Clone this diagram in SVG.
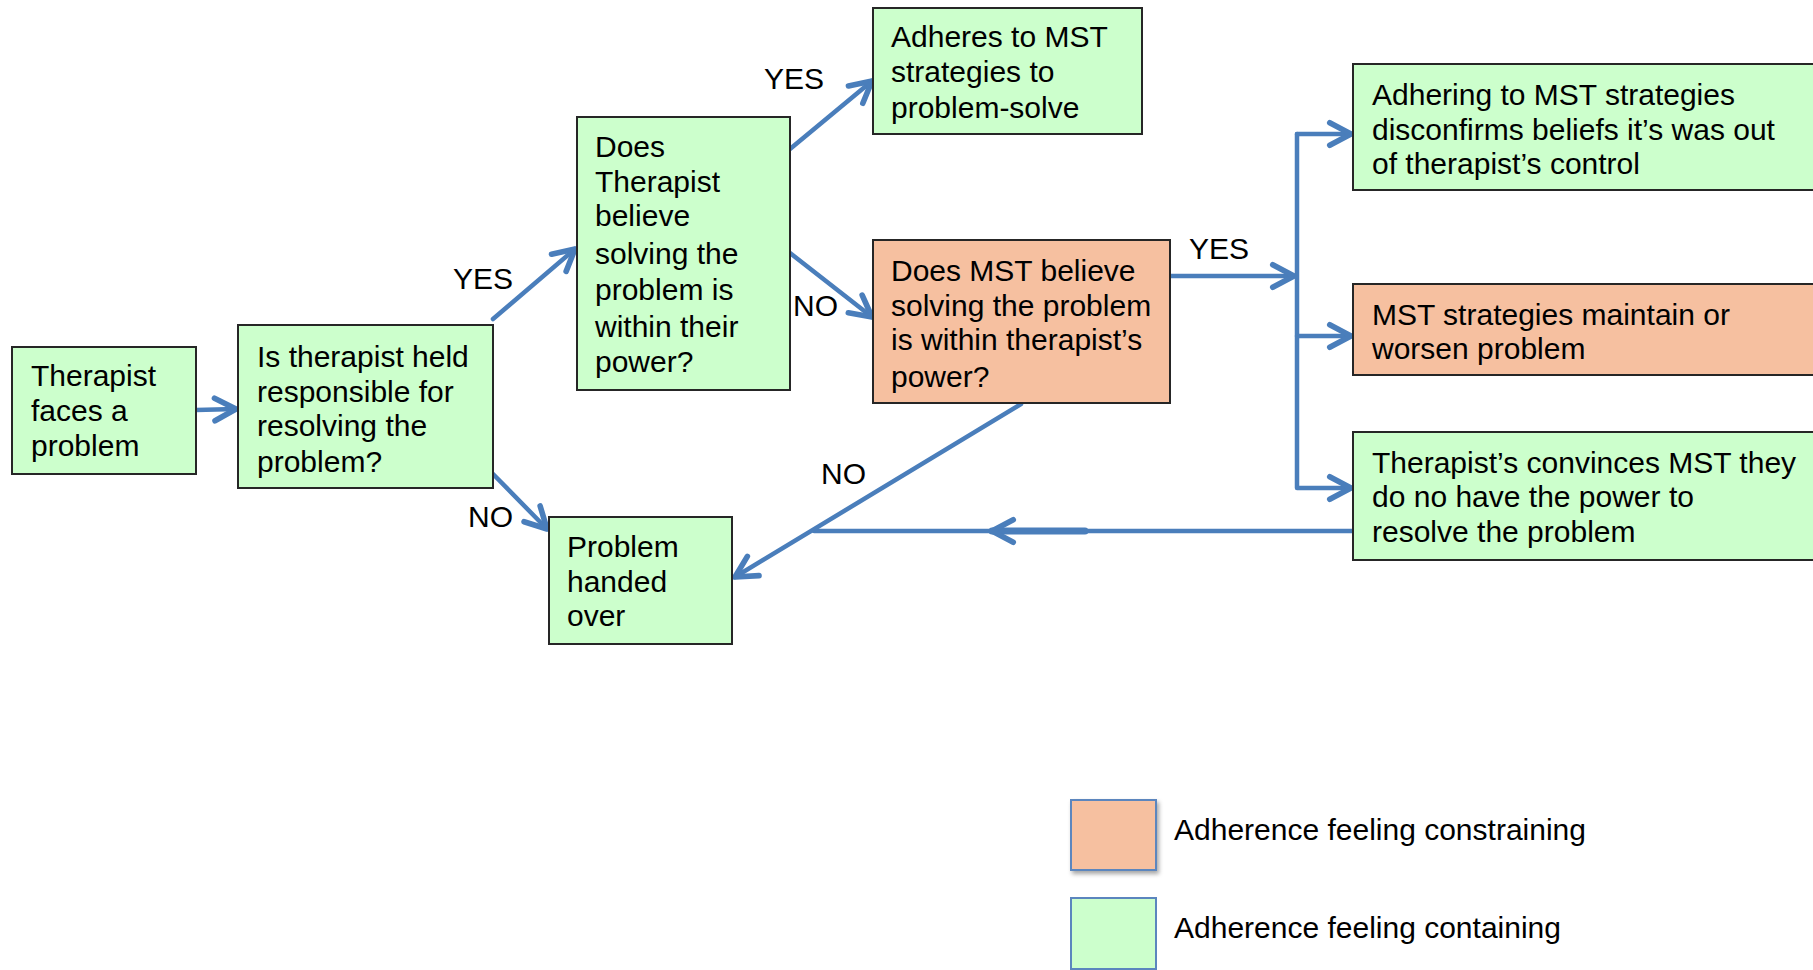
<svg xmlns="http://www.w3.org/2000/svg" width="1813" height="970" viewBox="0 0 1813 970">
<defs>
<style>
.box{stroke:#262626;stroke-width:2}
.g{fill:#CCFFCC}
.o{fill:#F6C0A0}
text{font-family:"Liberation Sans",Arial,sans-serif;font-size:30px;fill:#000}
.c{fill:none;stroke:#4A7EBB;stroke-width:4.5;stroke-linecap:round;stroke-linejoin:round}
.leg{stroke:#5B86BE;stroke-width:2}
</style>
<marker id="ah" markerUnits="userSpaceOnUse" markerWidth="30" markerHeight="30" viewBox="-20 -12 24 24" refX="0" refY="0" orient="auto">
<path d="M-17,-9 L0,0 L-17,9" fill="none" stroke="#4A7EBB" stroke-width="4.5" stroke-linecap="round" stroke-linejoin="round"/>
</marker>
<filter id="sh" x="-20%" y="-20%" width="150%" height="150%">
<feDropShadow dx="2" dy="3" stdDeviation="2" flood-color="#000" flood-opacity="0.35"/>
</filter>
</defs>
<rect width="1813" height="970" fill="#fff"/>

<g id="connectors">
<line class="c" x1="196" y1="410" x2="236" y2="409" marker-end="url(#ah)"/>
<line class="c" x1="493" y1="319" x2="575" y2="249" marker-end="url(#ah)"/>
<line class="c" x1="493" y1="474" x2="547" y2="529" marker-end="url(#ah)"/>
<line class="c" x1="790" y1="149" x2="872" y2="81" marker-end="url(#ah)"/>
<line class="c" x1="790" y1="253" x2="872" y2="317" marker-end="url(#ah)"/>
<line class="c" x1="1171" y1="276" x2="1294" y2="276" marker-end="url(#ah)"/>
<polyline class="c" points="1297,134 1297,488 1351,488" marker-end="url(#ah)"/>
<line class="c" x1="1297" y1="134" x2="1351" y2="134" marker-end="url(#ah)"/>
<line class="c" x1="1297" y1="336" x2="1351" y2="336" marker-end="url(#ah)"/>
<line class="c" x1="1353" y1="531" x2="814" y2="531"/>
<line class="c" x1="1085" y1="531" x2="992" y2="531" style="stroke-width:7" marker-end="url(#ah)"/>
<line class="c" x1="1021" y1="404" x2="735" y2="577" marker-end="url(#ah)"/>
</g>

<g id="labels">
<text x="764" y="89">YES</text>
<text x="453" y="289">YES</text>
<text x="468" y="527">NO</text>
<text x="793" y="316">NO</text>
<text x="1189" y="259">YES</text>
<text x="821" y="484">NO</text>
</g>

<g id="n1"><rect class="box g" x="12" y="347" width="184" height="127"/>
<text x="31"><tspan x="31" y="386">Therapist</tspan><tspan x="31" y="421">faces a</tspan><tspan x="31" y="456">problem</tspan></text></g>

<g id="n2"><rect class="box g" x="238" y="325" width="255" height="163"/>
<text><tspan x="257" y="367">Is therapist held</tspan><tspan x="257" y="402">responsible for</tspan><tspan x="257" y="436">resolving the</tspan><tspan x="257" y="472">problem?</tspan></text></g>

<g id="n3"><rect class="box g" x="577" y="117" width="213" height="273"/>
<text><tspan x="595" y="157">Does</tspan><tspan x="595" y="192">Therapist</tspan><tspan x="595" y="226">believe</tspan><tspan x="595" y="264">solving the</tspan><tspan x="595" y="300">problem is</tspan><tspan x="595" y="337">within their</tspan><tspan x="595" y="372">power?</tspan></text></g>

<g id="n4"><rect class="box g" x="873" y="8" width="269" height="126"/>
<text><tspan x="891" y="47">Adheres to MST</tspan><tspan x="891" y="82">strategies to</tspan><tspan x="891" y="118">problem-solve</tspan></text></g>

<g id="n5"><rect class="box o" x="873" y="240" width="297" height="163"/>
<text><tspan x="891" y="281">Does MST believe</tspan><tspan x="891" y="316">solving the problem</tspan><tspan x="891" y="350">is within therapist’s</tspan><tspan x="891" y="387">power?</tspan></text></g>

<g id="n6"><rect class="box g" x="1353" y="64" width="462" height="126"/>
<text><tspan x="1372" y="105">Adhering to MST strategies</tspan><tspan x="1372" y="140">disconfirms beliefs it’s was out</tspan><tspan x="1372" y="174">of therapist’s control</tspan></text></g>

<g id="n7"><rect class="box o" x="1353" y="284" width="462" height="91"/>
<text><tspan x="1372" y="325">MST strategies maintain or</tspan><tspan x="1372" y="359">worsen problem</tspan></text></g>

<g id="n8"><rect class="box g" x="1353" y="432" width="462" height="128"/>
<text><tspan x="1372" y="473">Therapist’s convinces MST they</tspan><tspan x="1372" y="507">do no have the power to</tspan><tspan x="1372" y="542">resolve the problem</tspan></text></g>

<g id="n9"><rect class="box g" x="549" y="517" width="183" height="127"/>
<text><tspan x="567" y="557">Problem</tspan><tspan x="567" y="592">handed</tspan><tspan x="567" y="626">over</tspan></text></g>

<g id="legend">
<rect class="leg o" x="1071" y="800" width="85" height="70" filter="url(#sh)"/>
<text x="1174" y="840">Adherence feeling constraining</text>
<rect class="leg g" x="1071" y="898" width="85" height="71"/>
<text x="1174" y="938">Adherence feeling containing</text>
</g>
</svg>
